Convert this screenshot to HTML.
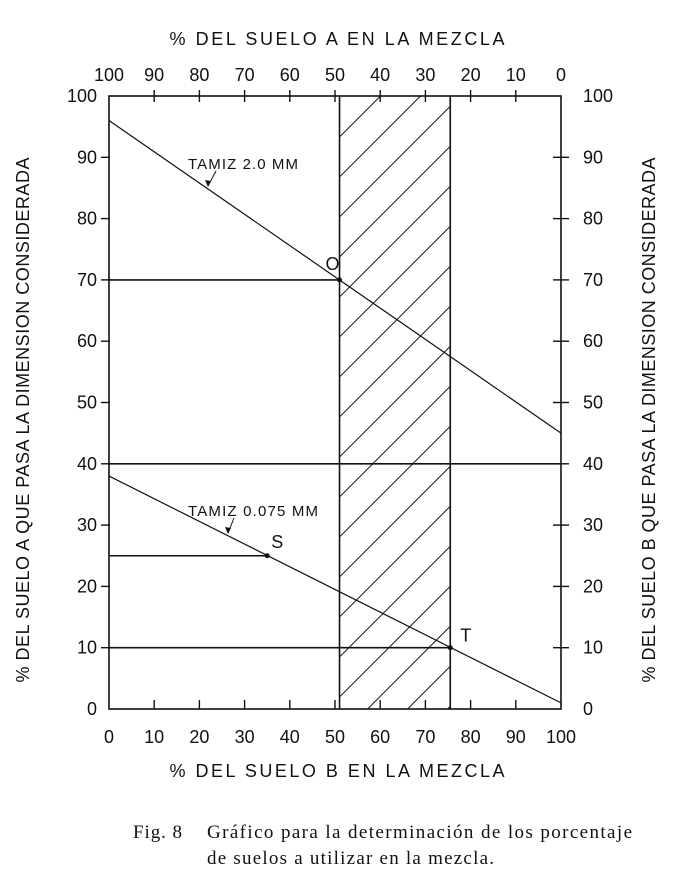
<!DOCTYPE html>
<html><head><meta charset="utf-8"><style>
html,body{margin:0;padding:0;background:#fff;}
svg{display:block;}
text{font-family:"Liberation Sans",sans-serif;fill:#111;}
.lab{font-size:18px;}
.cap{font-family:"Liberation Serif",serif;font-size:19px;}
</style></head><body>
<svg id="chart" width="680" height="875" viewBox="0 0 680 875" xmlns="http://www.w3.org/2000/svg">
<defs><clipPath id="band"><rect id="bandrect" x="0" y="0" width="0" height="0"/></clipPath></defs>
<g id="g"></g>
<text class="lab" x="337" y="45" text-anchor="middle" textLength="335">% DEL SUELO A EN LA MEZCLA</text>
<text class="lab" x="337" y="777" text-anchor="middle" textLength="335">% DEL SUELO B EN LA MEZCLA</text>
<text class="lab" transform="translate(29,420) rotate(-90)" text-anchor="middle" textLength="525">% DEL SUELO A QUE PASA LA DIMENSION CONSIDERADA</text>
<text class="lab" transform="translate(655,420) rotate(-90)" text-anchor="middle" textLength="525">% DEL SUELO B QUE PASA LA DIMENSION CONSIDERADA</text>
<text class="lab" x="188" y="169" style="font-size:15px" textLength="110">TAMIZ 2.0 MM</text>
<text class="lab" x="188" y="516" style="font-size:15px" textLength="130">TAMIZ 0.075 MM</text>
<text class="cap" x="133" y="838" textLength="49">Fig. 8</text>
<text class="cap" x="207" y="838" textLength="425">Gráfico para la determinación de los porcentaje</text>
<text class="cap" x="207" y="864" textLength="287">de suelos a utilizar en la mezcla.</text>
</svg>
<script>
const yTicks=[0,10,20,30,40,50,60,70,80,90,100];
const xTicks=[0,10,20,30,40,50,60,70,80,90,100];
const bandB=[51,75.5];
const line2mm=[96,45];      // A% passing at B=0, B=100
const line0075=[38,1];
const hLines=[[70,0,51],[40,0,100],[25,0,35],[10,0,75.5]];
const points=[["O",51,70],["S",35,25],["T",75.5,10]];
const L=109,R=561,T=96,B=709;
const sx=v=>L+(R-L)*v/100, sy=v=>B-(B-T)*v/100;
const NS="http://www.w3.org/2000/svg", g=document.getElementById('g');
function mk(tag,a,p){const e=document.createElementNS(NS,tag);for(const k in a)e.setAttribute(k,a[k]);(p||g).appendChild(e);return e;}
function ln(x1,y1,x2,y2,w,p){return mk('line',{x1,y1,x2,y2,stroke:'#111','stroke-width':w||1.4},p);}
const br=document.getElementById('bandrect');
br.setAttribute('x',sx(bandB[0]));br.setAttribute('y',T);br.setAttribute('width',sx(bandB[1])-sx(bandB[0]));br.setAttribute('height',B-T);
const hg=mk('g',{'clip-path':'url(#band)'});


for(let k=-692;k<200;k+=40){const x0=sx(bandB[0])+k+(B-T);ln(x0-(B-T)-20,B+20,x0+20,T-20,1,hg);}
const fr=mk('rect',{x:L,y:T,width:R-L,height:B-T,fill:'none',stroke:'#111','stroke-width':1.6});


bandB.forEach(b=>{const e=ln(sx(b),T,sx(b),B,1.6);});
yTicks.forEach(v=>{
 if(v>0&&v<100){ln(L-8,sy(v),L+1,sy(v));ln(R-8,sy(v),R+8,sy(v));}
 let t=mk('text',{x:L-12,y:sy(v)+6,'text-anchor':'end',class:'lab'});t.textContent=v;
 
 t=mk('text',{x:R+22,y:sy(v)+6,class:'lab'});t.textContent=v;
 
});
xTicks.forEach(v=>{
 if(v>0&&v<100){ln(sx(v),B-9,sx(v),B);ln(sx(v),T-6,sx(v),T+6);}
 let t=mk('text',{x:sx(v),y:743,'text-anchor':'middle',class:'lab'});t.textContent=v;
 
 t=mk('text',{x:sx(v),y:81,'text-anchor':'middle',class:'lab'});t.textContent=100-v;
 
});
hLines.forEach(h=>{const e=ln(sx(h[1]),sy(h[0]),sx(h[2]),sy(h[0]),1.6);});
[[line2mm,'line-tamiz-2mm'],[line0075,'line-tamiz-0075mm']].forEach(([d,n])=>{const e=ln(sx(0),sy(d[0]),sx(100),sy(d[1]),1.2);});
const off={O:[-14,-10],S:[4,-8],T:[10,-6]};
points.forEach(p=>{const c=mk('circle',{cx:sx(p[1]),cy:sy(p[2]),r:2.5,fill:'#111'});
 
 const t=mk('text',{x:sx(p[1])+off[p[0]][0],y:sy(p[2])+off[p[0]][1],class:'lab'});t.textContent=p[0];
 });
[[216,171,208,186],[234,518,228,533]].forEach(a=>{ln(a[0],a[1],a[2],a[3],1);mk('path',{d:`M${a[2]} ${a[3]+1} l-3 -7 l6 1 z`,fill:'#111'});});
</script>
</body></html>
